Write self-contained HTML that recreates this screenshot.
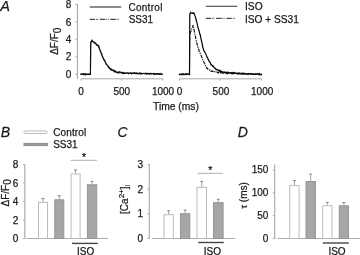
<!DOCTYPE html>
<html><head><meta charset="utf-8"><style>
html,body{margin:0;padding:0;background:#fff;}
text{stroke:#1a1a1a;stroke-width:0.25px;}
svg{display:block;font-family:"Liberation Sans", sans-serif;-webkit-font-smoothing:antialiased;will-change:transform;}
</style></head><body>
<svg width="360" height="255" viewBox="0 0 360 255">
<text x="0.2" y="11" font-size="14.5" text-anchor="start" fill="#1a1a1a" font-style="italic" >A</text>
<line x1="77.5" y1="4" x2="77.5" y2="79" stroke="#ababab" stroke-width="1.15" />
<line x1="75.5" y1="4.5" x2="77.5" y2="4.5" stroke="#ababab" stroke-width="1.15" />
<text x="71.2" y="8.1" font-size="10" text-anchor="end" fill="#1a1a1a"  >8</text>
<line x1="75.5" y1="21.9" x2="77.5" y2="21.9" stroke="#ababab" stroke-width="1.15" />
<text x="71.2" y="25.5" font-size="10" text-anchor="end" fill="#1a1a1a"  >6</text>
<line x1="75.5" y1="39.3" x2="77.5" y2="39.3" stroke="#ababab" stroke-width="1.15" />
<text x="71.2" y="42.9" font-size="10" text-anchor="end" fill="#1a1a1a"  >4</text>
<line x1="75.5" y1="56.8" x2="77.5" y2="56.8" stroke="#ababab" stroke-width="1.15" />
<text x="71.2" y="60.4" font-size="10" text-anchor="end" fill="#1a1a1a"  >2</text>
<line x1="75.5" y1="74.3" x2="77.5" y2="74.3" stroke="#ababab" stroke-width="1.15" />
<text x="71.2" y="77.89999999999999" font-size="10" text-anchor="end" fill="#1a1a1a"  >0</text>
<text transform="translate(58.2,41.2) rotate(-90)" font-size="10" text-anchor="middle" fill="#1a1a1a">ΔF/F<tspan dy="3">0</tspan></text>
<line x1="81.0" y1="78.8" x2="163.0" y2="78.8" stroke="#a8a8a8" stroke-width="1" />
<line x1="81.0" y1="78.8" x2="81.0" y2="80.6" stroke="#a8a8a8" stroke-width="1" />
<text x="81.0" y="95" font-size="10" text-anchor="middle" fill="#1a1a1a"  >0</text>
<line x1="121.75" y1="78.8" x2="121.75" y2="80.6" stroke="#a8a8a8" stroke-width="1" />
<text x="121.75" y="95" font-size="10" text-anchor="middle" fill="#1a1a1a"  >500</text>
<line x1="163.0" y1="78.8" x2="163.0" y2="80.6" stroke="#a8a8a8" stroke-width="1" />
<text x="163.0" y="95" font-size="10" text-anchor="middle" fill="#1a1a1a"  >1000</text>
<line x1="179.5" y1="78.8" x2="261.5" y2="78.8" stroke="#a8a8a8" stroke-width="1" />
<line x1="179.5" y1="78.8" x2="179.5" y2="80.6" stroke="#a8a8a8" stroke-width="1" />
<text x="179.5" y="95" font-size="10" text-anchor="middle" fill="#1a1a1a"  >0</text>
<line x1="220.25" y1="78.8" x2="220.25" y2="80.6" stroke="#a8a8a8" stroke-width="1" />
<text x="220.95" y="95" font-size="10" text-anchor="middle" fill="#1a1a1a"  >500</text>
<line x1="261.5" y1="78.8" x2="261.5" y2="80.6" stroke="#a8a8a8" stroke-width="1" />
<text x="262.2" y="95" font-size="10" text-anchor="middle" fill="#1a1a1a"  >1000</text>
<text x="153.0" y="110" font-size="10.3" text-anchor="start" fill="#1a1a1a"  >Time (ms)</text>
<line x1="89.75" y1="7" x2="121.25" y2="7" stroke="#666" stroke-width="1.3" />
<line x1="89.75" y1="19.4" x2="119.5" y2="19.4" stroke="#444" stroke-width="1.2" stroke-dasharray="5.3 0.9 0.7 0.7 0.8 1.9"/>
<text x="128.4" y="11" font-size="10" text-anchor="start" fill="#1a1a1a"  textLength="34.0" lengthAdjust="spacing">Control</text>
<text x="128.7" y="22.7" font-size="10" text-anchor="start" fill="#1a1a1a"  >SS31</text>
<line x1="205.8" y1="6.25" x2="237.2" y2="6.25" stroke="#333" stroke-width="1.2" />
<line x1="205.8" y1="18.3" x2="235.4" y2="18.3" stroke="#444" stroke-width="1.2" stroke-dasharray="5.3 0.9 0.7 0.7 0.8 1.9"/>
<text x="245.0" y="10" font-size="10.2" text-anchor="start" fill="#1a1a1a"  >ISO</text>
<text x="245.0" y="22.5" font-size="10.2" text-anchor="start" fill="#1a1a1a"  textLength="53.9" lengthAdjust="spacing">ISO + SS31</text>
<path d="M80.50,73.91 L81.00,74.25 L81.50,74.06 L82.00,74.31 L82.50,74.34 L83.00,73.72 L83.50,73.66 L84.00,74.57 L84.50,73.94 L85.00,73.91 L85.50,74.75 L86.00,74.17 L86.50,74.57 L87.00,74.17 L87.50,74.35 L88.00,73.82 L88.50,74.35 L89.00,74.60 L89.50,74.23 L90.00,74.47 L90.40,74.39 L90.50,62.99 L90.70,42.28 L91.00,41.86 L91.50,41.14 L92.00,40.44 L92.20,41.20 L92.50,41.01 L93.00,41.67 L93.50,42.24 L94.00,42.45 L94.50,43.08 L95.00,42.89 L95.50,43.73 L96.00,43.84 L96.50,44.88 L97.00,45.32 L97.50,44.96 L98.00,45.50 L98.50,46.09 L98.70,47.11 L99.00,47.37 L99.50,48.98 L100.00,50.02 L100.20,50.81 L100.50,51.42 L101.00,52.62 L101.50,54.12 L102.00,55.35 L102.50,56.94 L103.00,57.69 L103.50,58.94 L104.00,59.85 L104.50,60.98 L105.00,61.61 L105.50,62.04 L105.90,63.60 L106.00,63.86 L106.50,64.56 L107.00,64.94 L107.50,65.86 L108.00,66.07 L108.50,67.51 L108.80,67.68 L109.00,67.53 L109.50,67.69 L110.00,68.97 L110.50,69.52 L111.00,68.94 L111.50,70.13 L112.00,69.98 L112.50,69.97 L113.00,70.40 L113.50,71.20 L114.00,71.59 L114.40,70.90 L114.50,71.55 L115.00,71.07 L115.50,71.95 L116.00,71.66 L116.50,72.40 L117.00,72.65 L117.50,72.27 L118.00,72.95 L118.50,72.25 L119.00,72.04 L119.50,72.67 L120.00,72.10 L120.50,72.34 L121.00,72.63 L121.50,72.90 L122.00,72.46 L122.50,72.39 L123.00,73.35 L123.50,72.80 L124.00,73.52 L124.50,73.47 L125.00,72.91 L125.50,73.02 L126.00,73.10 L126.50,73.26 L127.00,73.22 L127.50,73.20 L128.00,73.28 L128.50,73.65 L129.00,73.19 L129.50,73.12 L130.00,73.45 L130.50,72.94 L131.00,73.03 L131.50,73.79 L132.00,73.30 L132.50,73.35 L133.00,72.77 L133.50,73.23 L134.00,73.43 L134.50,72.83 L135.00,73.50 L135.50,73.54 L136.00,72.92 L136.50,73.56 L137.00,73.40 L137.50,73.65 L138.00,73.31 L138.50,73.72 L139.00,73.77 L139.50,73.00 L140.00,73.05 L140.50,73.75 L141.00,74.08 L141.50,73.31 L142.00,73.55 L142.50,73.72 L143.00,73.44 L143.50,73.50 L144.00,73.46 L144.50,73.54 L145.00,73.81 L145.50,73.49 L146.00,73.59 L146.50,74.03 L147.00,73.23 L147.50,73.83 L148.00,74.03 L148.50,73.57 L149.00,73.49 L149.50,74.14 L150.00,73.53 L150.50,73.48 L151.00,73.77 L151.50,74.07 L152.00,73.42 L152.50,73.68 L153.00,73.70 L153.50,74.26 L154.00,73.84 L154.50,74.31 L155.00,73.56 L155.50,73.76 L156.00,74.12 L156.50,74.39 L157.00,73.92 L157.50,73.68 L158.00,73.58 L158.50,74.04 L159.00,73.68 L159.50,74.37 L160.00,74.42 L160.50,73.71 L161.00,73.82 L161.50,74.42 L162.00,74.24 L162.50,74.44" fill="none" stroke="#000" stroke-width="1.2" stroke-linejoin="miter"/>
<path d="M80.50,73.83 L81.00,73.59 L81.50,73.77 L82.00,74.32 L82.50,73.75 L83.00,73.83 L83.50,73.91 L84.00,73.91 L84.50,73.90 L85.00,74.46 L85.50,73.62 L86.00,73.46 L86.50,74.49 L87.00,74.42 L87.50,74.54 L88.00,73.93 L88.50,74.50 L89.00,74.47 L89.50,73.69 L90.00,74.27 L90.50,74.37 L90.80,42.68 L91.00,42.40 L91.50,41.83 L92.00,41.58 L92.40,41.20 L92.50,41.06 L93.00,41.81 L93.50,41.66 L94.00,42.41 L94.50,41.74 L95.00,42.87 L95.50,42.81 L96.00,43.53 L96.50,43.97 L97.00,44.45 L97.50,44.56 L98.00,44.41 L98.50,45.68 L98.70,45.24 L99.00,46.22 L99.50,48.02 L100.00,49.27 L100.20,49.71 L100.50,51.07 L101.00,52.01 L101.50,53.02 L102.00,54.22 L102.50,56.20 L103.00,56.80 L103.50,58.17 L104.00,58.73 L104.50,59.58 L105.00,60.99 L105.50,62.32 L105.90,62.44 L106.00,63.27 L106.50,64.17 L107.00,64.81 L107.50,65.58 L108.00,65.44 L108.50,66.89 L108.80,67.60 L109.00,66.88 L109.50,67.54 L110.00,67.97 L110.50,68.68 L111.00,68.99 L111.50,69.47 L112.00,70.08 L112.50,69.50 L113.00,69.84 L113.50,70.19 L114.00,70.47 L114.40,70.63 L114.50,71.65 L115.00,71.66 L115.50,70.95 L116.00,71.55 L116.50,71.48 L117.00,71.62 L117.50,71.80 L118.00,72.26 L118.50,72.26 L119.00,72.07 L119.50,71.95 L120.00,72.17 L120.50,72.00 L121.00,72.54 L121.50,72.78 L122.00,72.48 L122.50,72.21 L123.00,72.38 L123.50,72.66 L124.00,72.93 L124.50,73.14 L125.00,72.72 L125.50,73.20 L126.00,73.02 L126.50,72.82 L127.00,72.77 L127.50,72.93 L128.00,73.17 L128.50,72.88 L129.00,73.19 L129.50,72.95 L130.00,72.73 L130.50,73.07 L131.00,73.26 L131.50,72.59 L132.00,72.99 L132.50,73.01 L133.00,73.53 L133.50,73.61 L134.00,73.00 L134.50,73.60 L135.00,73.49 L135.50,72.93 L136.00,73.17 L136.50,72.81 L137.00,73.58 L137.50,73.43 L138.00,73.70 L138.50,73.61 L139.00,73.49 L139.50,73.58 L140.00,73.41 L140.50,72.92 L141.00,73.47 L141.50,72.84 L142.00,73.01 L142.50,73.72 L143.00,72.93 L143.50,73.00 L144.00,73.03 L144.50,73.90 L145.00,73.15 L145.50,72.99 L146.00,73.90 L146.50,73.12 L147.00,73.92 L147.50,73.75 L148.00,73.94 L148.50,74.08 L149.00,73.68 L149.50,73.93 L150.00,73.10 L150.50,73.92 L151.00,73.65 L151.50,73.89 L152.00,73.23 L152.50,73.95 L153.00,74.16 L153.50,73.21 L154.00,73.51 L154.50,73.79 L155.00,74.09 L155.50,73.46 L156.00,73.40 L156.50,73.49 L157.00,73.90 L157.50,74.06 L158.00,73.68 L158.50,73.66 L159.00,73.71 L159.50,73.67 L160.00,73.75 L160.50,73.40 L161.00,73.87 L161.50,74.40 L162.00,73.79 L162.50,74.17" fill="none" stroke="#222" stroke-width="1.0" stroke-linejoin="miter" stroke-dasharray="4 1.5 1 1.5"/>
<path d="M179.00,73.83 L179.50,74.41 L180.00,74.48 L180.50,74.39 L181.00,74.22 L181.50,74.18 L182.00,74.36 L182.50,74.64 L183.00,73.81 L183.50,73.76 L184.00,74.47 L184.50,74.66 L185.00,74.22 L185.50,74.14 L186.00,74.44 L186.50,73.85 L187.00,73.94 L187.50,73.87 L188.00,74.29 L188.50,74.00 L189.00,73.91 L189.50,74.41 L189.80,14.50 L190.00,13.52 L190.50,13.32 L190.80,12.60 L191.00,13.22 L191.50,13.24 L192.00,13.22 L192.20,13.29 L192.50,13.00 L193.00,13.38 L193.50,13.15 L193.80,12.84 L194.00,13.45 L194.50,14.40 L195.00,15.90 L195.50,17.01 L196.00,19.75 L196.50,20.99 L196.80,22.21 L197.00,22.90 L197.50,25.39 L198.00,27.47 L198.50,29.26 L199.00,30.79 L199.50,32.67 L200.00,34.43 L200.30,34.89 L200.50,36.24 L201.00,38.95 L201.50,40.86 L202.00,43.06 L202.50,45.52 L202.70,47.04 L203.00,47.86 L203.50,49.62 L204.00,50.94 L204.50,51.72 L205.00,52.57 L205.50,53.56 L206.00,54.40 L206.50,55.88 L206.80,56.59 L207.00,57.08 L207.50,57.46 L208.00,59.22 L208.50,59.70 L209.00,60.92 L209.50,62.10 L210.00,62.24 L210.50,63.10 L211.00,64.77 L211.50,64.67 L212.00,65.24 L212.50,65.99 L212.60,66.19 L213.00,65.86 L213.50,66.72 L214.00,67.33 L214.50,67.88 L215.00,68.08 L215.50,68.83 L216.00,69.57 L216.50,69.28 L217.00,69.78 L217.50,69.65 L218.00,70.15 L218.50,70.76 L219.00,70.32 L219.50,71.35 L220.00,71.55 L220.50,70.83 L221.00,71.94 L221.50,71.49 L222.00,72.10 L222.50,72.15 L223.00,71.72 L223.50,72.20 L224.00,72.25 L224.50,72.49 L225.00,71.96 L225.50,72.57 L226.00,72.87 L226.50,72.62 L227.00,72.54 L227.50,72.12 L228.00,72.58 L228.50,72.47 L229.00,72.91 L229.50,72.92 L230.00,72.84 L230.50,72.46 L231.00,73.01 L231.50,73.04 L232.00,72.58 L232.50,73.41 L233.00,73.20 L233.50,72.65 L234.00,73.59 L234.50,72.76 L235.00,73.01 L235.50,73.47 L236.00,73.37 L236.50,73.35 L237.00,73.48 L237.50,73.30 L238.00,73.17 L238.50,73.05 L239.00,72.97 L239.50,73.71 L240.00,73.78 L240.50,73.58 L241.00,73.82 L241.50,73.44 L242.00,73.36 L242.50,73.52 L243.00,74.09 L243.50,73.21 L244.00,73.75 L244.50,73.49 L245.00,74.10 L245.50,73.66 L246.00,73.65 L246.50,73.75 L247.00,73.92 L247.50,74.19 L248.00,73.74 L248.50,74.31 L249.00,73.51 L249.50,73.71 L250.00,73.54 L250.50,73.57 L251.00,74.32 L251.50,74.28 L252.00,73.70 L252.50,73.72 L253.00,73.99 L253.50,74.37 L254.00,74.46 L254.50,74.41 L255.00,74.25 L255.50,73.78 L256.00,74.08 L256.50,73.87 L257.00,74.25 L257.50,74.32 L258.00,73.93 L258.50,74.00 L259.00,74.60 L259.50,73.79 L260.00,74.66 L260.50,74.78 L261.00,74.86 L261.50,74.25 L262.00,74.46" fill="none" stroke="#000" stroke-width="1.2" stroke-linejoin="miter"/>
<path d="M179.00,74.29 L179.50,74.35 L180.00,74.72 L180.50,74.41 L181.00,73.98 L181.50,74.60 L182.00,74.18 L182.50,74.31 L183.00,74.45 L183.50,73.65 L184.00,74.50 L184.50,74.38 L185.00,74.19 L185.50,74.23 L186.00,74.16 L186.50,73.86 L187.00,74.23 L187.50,73.69 L188.00,74.20 L188.50,74.36 L189.00,74.14 L189.50,74.27 L189.80,34.50 L190.00,33.93 L190.50,31.85 L191.00,31.32 L191.50,29.91 L192.00,28.05 L192.50,27.16 L193.00,25.80 L193.20,25.14 L193.50,27.12 L194.00,30.01 L194.40,31.31 L194.50,32.40 L195.00,34.66 L195.50,36.51 L195.60,37.79 L196.00,39.26 L196.50,41.81 L197.00,43.76 L197.20,44.66 L197.50,45.17 L198.00,47.26 L198.50,48.97 L199.00,50.47 L199.50,51.58 L199.80,52.88 L200.00,53.09 L200.50,53.96 L201.00,55.16 L201.50,56.47 L201.80,57.37 L202.00,57.77 L202.50,59.25 L202.70,59.92 L203.00,60.35 L203.50,61.25 L204.00,62.52 L204.50,63.16 L205.00,64.36 L205.50,65.61 L206.00,66.16 L206.50,66.84 L207.00,68.57 L207.20,68.74 L207.50,68.58 L208.00,68.96 L208.50,69.51 L209.00,69.96 L209.50,69.92 L210.00,70.05 L210.50,70.46 L211.00,71.28 L211.50,70.75 L212.00,71.28 L212.50,71.17 L213.00,71.37 L213.50,71.51 L214.00,71.95 L214.40,71.84 L214.50,71.69 L215.00,71.86 L215.50,71.99 L216.00,72.42 L216.50,72.02 L217.00,72.05 L217.50,72.59 L218.00,72.61 L218.50,73.01 L219.00,72.36 L219.50,72.82 L220.00,72.89 L220.50,72.50 L221.00,73.55 L221.50,72.74 L222.00,72.62 L222.50,73.06 L223.00,72.73 L223.50,73.25 L224.00,72.96 L224.50,72.74 L225.00,72.67 L225.50,73.43 L226.00,72.95 L226.50,73.53 L227.00,73.20 L227.50,73.73 L228.00,73.05 L228.50,73.01 L229.00,73.04 L229.50,73.66 L230.00,73.48 L230.50,73.18 L231.00,72.92 L231.50,73.58 L232.00,73.92 L232.50,73.52 L233.00,72.89 L233.50,72.93 L234.00,73.02 L234.50,73.12 L235.00,72.99 L235.50,73.02 L236.00,73.70 L236.50,73.98 L237.00,73.23 L237.50,74.10 L238.00,73.56 L238.50,73.94 L239.00,74.08 L239.50,74.12 L240.00,73.14 L240.50,73.45 L241.00,73.80 L241.50,74.18 L242.00,73.25 L242.50,73.49 L243.00,74.12 L243.50,73.33 L244.00,73.65 L244.50,73.60 L245.00,73.99 L245.50,74.28 L246.00,73.47 L246.50,74.10 L247.00,74.11 L247.50,74.24 L248.00,73.94 L248.50,74.37 L249.00,73.76 L249.50,73.84 L250.00,73.65 L250.50,74.27 L251.00,73.95 L251.50,73.74 L252.00,73.64 L252.50,74.26 L253.00,74.15 L253.50,74.28 L254.00,73.94 L254.50,74.06 L255.00,73.71 L255.50,74.34 L256.00,73.60 L256.50,74.10 L257.00,74.44 L257.50,74.36 L258.00,73.74 L258.50,73.91 L259.00,74.59 L259.50,74.38 L260.00,74.66 L260.50,74.67 L261.00,74.22 L261.50,74.72 L262.00,74.56" fill="none" stroke="#111" stroke-width="1.15" stroke-linejoin="miter" stroke-dasharray="3.5 1 1.2 1"/>
<text transform="translate(0.8,137.3) scale(0.96,1)" font-size="14.7" font-style="italic" fill="#1a1a1a">B</text>
<rect x="23.9" y="130.9" width="23.4" height="2.5" rx="1.2" fill="#fff" stroke="#bababa" stroke-width="1"/>
<rect x="24" y="143.4" width="23.3" height="2.2" fill="#999" stroke="#8c8c8c" stroke-width="1"/>
<text x="53.2" y="135.8" font-size="10" text-anchor="start" fill="#1a1a1a"  textLength="33.0" lengthAdjust="spacing">Control</text>
<text x="53.2" y="147.5" font-size="10" text-anchor="start" fill="#1a1a1a"  >SS31</text>
<line x1="24.8" y1="164" x2="24.8" y2="239" stroke="#ababab" stroke-width="1.15" />
<line x1="23.0" y1="164.5" x2="24.8" y2="164.5" stroke="#ababab" stroke-width="1.15" />
<text x="18.2" y="168.1" font-size="10" text-anchor="end" fill="#1a1a1a"  >8</text>
<line x1="23.0" y1="183" x2="24.8" y2="183" stroke="#ababab" stroke-width="1.15" />
<text x="18.2" y="186.6" font-size="10" text-anchor="end" fill="#1a1a1a"  >6</text>
<line x1="23.0" y1="201.5" x2="24.8" y2="201.5" stroke="#ababab" stroke-width="1.15" />
<text x="18.2" y="205.1" font-size="10" text-anchor="end" fill="#1a1a1a"  >4</text>
<line x1="23.0" y1="220" x2="24.8" y2="220" stroke="#ababab" stroke-width="1.15" />
<text x="18.2" y="223.6" font-size="10" text-anchor="end" fill="#1a1a1a"  >2</text>
<line x1="23.0" y1="238.5" x2="24.8" y2="238.5" stroke="#ababab" stroke-width="1.15" />
<text x="18.2" y="242.1" font-size="10" text-anchor="end" fill="#1a1a1a"  >0</text>
<line x1="26.5" y1="238.5" x2="108" y2="238.5" stroke="#ababab" stroke-width="1.15" />
<text transform="translate(8.5,192.9) rotate(-90)" font-size="10" text-anchor="middle" fill="#1a1a1a">ΔF/F<tspan dy="2">0</tspan></text>
<rect x="38.5" y="202.4" width="9" height="36.099999999999994" fill="#fff" stroke="#bcbcbc" stroke-width="1"/>
<line x1="43.0" y1="198.2" x2="43.0" y2="201.9" stroke="#a4a4a4" stroke-width="1" />
<line x1="41.5" y1="198.6" x2="44.5" y2="198.6" stroke="#888" stroke-width="1" />
<rect x="54.8" y="199.8" width="9" height="38.69999999999999" fill="#a6a6a6" stroke="#959595" stroke-width="1"/>
<line x1="59.3" y1="195.4" x2="59.3" y2="199.3" stroke="#a4a4a4" stroke-width="1" />
<line x1="57.8" y1="195.8" x2="60.8" y2="195.8" stroke="#888" stroke-width="1" />
<rect x="71.1" y="174.0" width="9" height="64.5" fill="#fff" stroke="#bcbcbc" stroke-width="1"/>
<line x1="75.6" y1="169.6" x2="75.6" y2="173.5" stroke="#a4a4a4" stroke-width="1" />
<line x1="74.1" y1="170.0" x2="77.1" y2="170.0" stroke="#888" stroke-width="1" />
<rect x="87.4" y="184.8" width="9.3" height="53.69999999999999" fill="#a6a6a6" stroke="#959595" stroke-width="1"/>
<line x1="92.05000000000001" y1="181.0" x2="92.05000000000001" y2="184.3" stroke="#a4a4a4" stroke-width="1" />
<line x1="90.55000000000001" y1="181.4" x2="93.55000000000001" y2="181.4" stroke="#888" stroke-width="1" />
<line x1="70.8" y1="160.3" x2="96.9" y2="160.3" stroke="#b0b0b0" stroke-width="1" />
<text x="84" y="160.9" font-size="10.5" text-anchor="middle" fill="#1a1a1a"  >*</text>
<line x1="72" y1="243.4" x2="97.8" y2="243.4" stroke="#444" stroke-width="1.4" />
<text x="85.7" y="255" font-size="10" text-anchor="middle" fill="#1a1a1a"  >ISO</text>
<text transform="translate(117.6,137.3) scale(0.93,1)" font-size="14.9" font-style="italic" fill="#1a1a1a">C</text>
<line x1="149.3" y1="164" x2="149.3" y2="239" stroke="#ababab" stroke-width="1.15" />
<line x1="147.5" y1="164.5" x2="149.3" y2="164.5" stroke="#ababab" stroke-width="1.15" />
<text x="143" y="168.1" font-size="10" text-anchor="end" fill="#1a1a1a"  >3</text>
<line x1="147.5" y1="189.2" x2="149.3" y2="189.2" stroke="#ababab" stroke-width="1.15" />
<text x="143" y="192.79999999999998" font-size="10" text-anchor="end" fill="#1a1a1a"  >2</text>
<line x1="147.5" y1="213.8" x2="149.3" y2="213.8" stroke="#ababab" stroke-width="1.15" />
<text x="143" y="217.4" font-size="10" text-anchor="end" fill="#1a1a1a"  >1</text>
<line x1="147.5" y1="238.5" x2="149.3" y2="238.5" stroke="#ababab" stroke-width="1.15" />
<text x="143" y="242.1" font-size="10" text-anchor="end" fill="#1a1a1a"  >0</text>
<line x1="152" y1="238.5" x2="235" y2="238.5" stroke="#ababab" stroke-width="1.15" />
<text transform="translate(128.2,199.4) rotate(-90)" font-size="10" text-anchor="middle" fill="#1a1a1a">[Ca<tspan font-size="8" dy="-3.8">2+</tspan><tspan dy="3.8">]</tspan><tspan font-size="7" dy="2" stroke-width="0.1">i</tspan></text>
<rect x="164.0" y="214.7" width="9.3" height="23.80000000000001" fill="#fff" stroke="#bcbcbc" stroke-width="1"/>
<line x1="168.65" y1="210.3" x2="168.65" y2="214.2" stroke="#a4a4a4" stroke-width="1" />
<line x1="167.15" y1="210.70000000000002" x2="170.15" y2="210.70000000000002" stroke="#888" stroke-width="1" />
<rect x="180.5" y="213.7" width="9.3" height="24.80000000000001" fill="#a6a6a6" stroke="#959595" stroke-width="1"/>
<line x1="185.15" y1="209.7" x2="185.15" y2="213.2" stroke="#a4a4a4" stroke-width="1" />
<line x1="183.65" y1="210.1" x2="186.65" y2="210.1" stroke="#888" stroke-width="1" />
<rect x="197.0" y="187.4" width="9.5" height="51.099999999999994" fill="#fff" stroke="#bcbcbc" stroke-width="1"/>
<line x1="201.75" y1="181" x2="201.75" y2="186.9" stroke="#a4a4a4" stroke-width="1" />
<line x1="200.25" y1="181.4" x2="203.25" y2="181.4" stroke="#888" stroke-width="1" />
<rect x="213.5" y="202.7" width="9.6" height="35.80000000000001" fill="#a6a6a6" stroke="#959595" stroke-width="1"/>
<line x1="218.3" y1="198.9" x2="218.3" y2="202.2" stroke="#a4a4a4" stroke-width="1" />
<line x1="216.8" y1="199.3" x2="219.8" y2="199.3" stroke="#888" stroke-width="1" />
<line x1="197.6" y1="173.3" x2="223.1" y2="173.3" stroke="#b0b0b0" stroke-width="1" />
<text x="210.4" y="173.6" font-size="10.5" text-anchor="middle" fill="#1a1a1a"  >*</text>
<line x1="198.3" y1="242.5" x2="223.8" y2="242.5" stroke="#444" stroke-width="1.4" />
<text x="212.4" y="254.6" font-size="10" text-anchor="middle" fill="#1a1a1a"  >ISO</text>
<text transform="translate(237.8,137.4) scale(0.95,1)" font-size="14.8" font-style="italic" fill="#1a1a1a">D</text>
<line x1="274.7" y1="164.5" x2="274.7" y2="239" stroke="#ababab" stroke-width="1.15" />
<line x1="272.9" y1="169.8" x2="274.7" y2="169.8" stroke="#ababab" stroke-width="1.15" />
<text x="268.4" y="173.4" font-size="10" text-anchor="end" fill="#1a1a1a"  >150</text>
<line x1="272.9" y1="192.7" x2="274.7" y2="192.7" stroke="#ababab" stroke-width="1.15" />
<text x="268.4" y="196.29999999999998" font-size="10" text-anchor="end" fill="#1a1a1a"  >100</text>
<line x1="272.9" y1="215.6" x2="274.7" y2="215.6" stroke="#ababab" stroke-width="1.15" />
<text x="268.4" y="219.2" font-size="10" text-anchor="end" fill="#1a1a1a"  >50</text>
<line x1="272.9" y1="238.5" x2="274.7" y2="238.5" stroke="#ababab" stroke-width="1.15" />
<text x="268.4" y="242.1" font-size="10" text-anchor="end" fill="#1a1a1a"  >0</text>
<line x1="277.5" y1="238.5" x2="360" y2="238.5" stroke="#ababab" stroke-width="1.15" />
<text transform="translate(247.0,195.3) rotate(-90)" font-size="10" text-anchor="middle" fill="#1a1a1a"><tspan font-size="9">τ</tspan> (ms)</text>
<rect x="289.7" y="185.6" width="9.4" height="52.900000000000006" fill="#fff" stroke="#bcbcbc" stroke-width="1"/>
<line x1="294.4" y1="180.2" x2="294.4" y2="185.1" stroke="#a4a4a4" stroke-width="1" />
<line x1="292.9" y1="180.6" x2="295.9" y2="180.6" stroke="#888" stroke-width="1" />
<rect x="306.0" y="181.5" width="9.4" height="57.0" fill="#a6a6a6" stroke="#959595" stroke-width="1"/>
<line x1="310.7" y1="173.7" x2="310.7" y2="181" stroke="#a4a4a4" stroke-width="1" />
<line x1="309.2" y1="174.1" x2="312.2" y2="174.1" stroke="#888" stroke-width="1" />
<rect x="322.7" y="205.8" width="9.2" height="32.69999999999999" fill="#fff" stroke="#bcbcbc" stroke-width="1"/>
<line x1="327.3" y1="202" x2="327.3" y2="205.3" stroke="#a4a4a4" stroke-width="1" />
<line x1="325.8" y1="202.4" x2="328.8" y2="202.4" stroke="#888" stroke-width="1" />
<rect x="339.3" y="205.8" width="9.2" height="32.69999999999999" fill="#a6a6a6" stroke="#959595" stroke-width="1"/>
<line x1="343.90000000000003" y1="202.2" x2="343.90000000000003" y2="205.3" stroke="#a4a4a4" stroke-width="1" />
<line x1="342.40000000000003" y1="202.6" x2="345.40000000000003" y2="202.6" stroke="#888" stroke-width="1" />
<line x1="322.8" y1="243" x2="348.8" y2="243" stroke="#444" stroke-width="1.4" />
<text x="337" y="255" font-size="10" text-anchor="middle" fill="#1a1a1a"  >ISO</text>
</svg>
</body></html>
